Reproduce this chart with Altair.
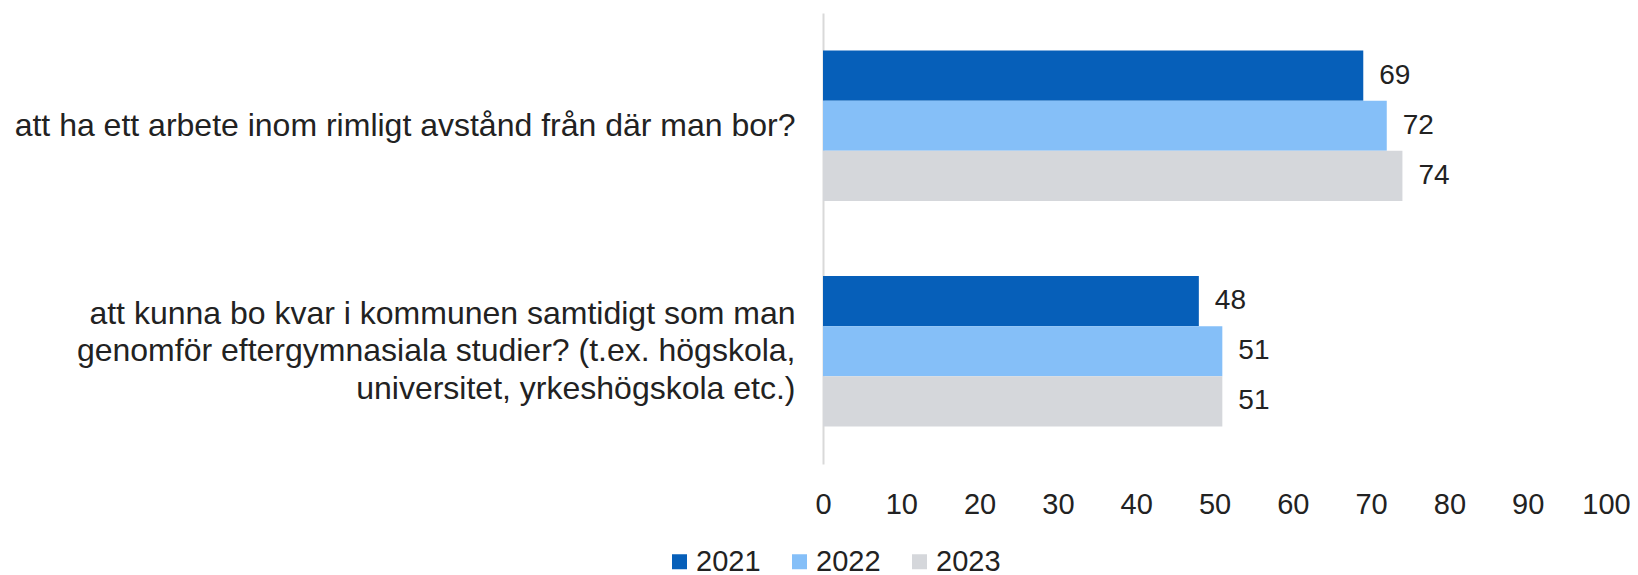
import altair as alt
import pandas as pd

questions = [
    "att ha ett arbete inom rimligt avstånd från där man bor?",
    "att kunna bo kvar i kommunen samtidigt som man|genomför eftergymnasiala studier? (t.ex. högskola,|universitet, yrkeshögskola etc.)",
]
years = ["2021", "2022", "2023"]
values_q1 = [69, 72, 74]
values_q2 = [48, 51, 51]
colors = ["#065FB9", "#85BFF8", "#D5D7DB"]
x_ticks = [0, 10, 20, 30, 40, 50, 60, 70, 80, 90, 100]

rows = []
for q, vals in zip(questions, [values_q1, values_q2]):
    for y, v in zip(years, vals):
        rows.append({"question": q, "year": y, "value": v})
df = pd.DataFrame(rows)

FONT = "Liberation Sans"
TXT = "#222222"

y_enc = alt.Y(
    "question:N",
    sort=questions,
    scale=alt.Scale(paddingInner=1 / 3, paddingOuter=1 / 6),
    axis=alt.Axis(
        title=None,
        labelExpr="split(datum.label, '|')",
        labelFont=FONT,
        labelFontSize=32,
        labelColor=TXT,
        labelLimit=900,
        labelPadding=28,
        labelLineHeight=37.5,
        labelBaseline="middle",
        labelOffset={
            "condition": {"test": "indexof(datum.value, '|') >= 0", "value": -37.5},
            "value": 0,
        },
        ticks=False,
        domain=True,
        domainColor="#D9D9D9",
        domainWidth=2,
        grid=False,
    ),
)
x_enc = alt.X(
    "value:Q",
    scale=alt.Scale(domain=[0, 100], nice=False),
    axis=alt.Axis(
        title=None,
        values=x_ticks,
        labelFont=FONT,
        labelFontSize=29,
        labelColor=TXT,
        labelPadding=26,
        ticks=False,
        domain=False,
        grid=False,
        labelFlush=False,
    ),
)

base = alt.Chart(df).encode(
    y=y_enc,
    yOffset=alt.YOffset("year:N", sort=years),
)

bars = base.mark_bar().encode(
    x=x_enc,
    color=alt.Color(
        "year:N",
        scale=alt.Scale(domain=years, range=colors),
        legend=alt.Legend(
            title=None,
            orient="none",
            direction="horizontal",
            legendX=-158,
            legendY=534,
            padding=0,
            symbolType="square",
            symbolSize=225,
            symbolStrokeWidth=0,
            labelFont=FONT,
            labelFontSize=29,
            labelColor=TXT,
            labelOffset=2,
            columnPadding=24,
        ),
    ),
)

labels = base.mark_text(
    align="left", baseline="middle", dx=16, font=FONT, fontSize=28, color=TXT
).encode(x="value:Q", text="value:Q")

chart = (
    alt.layer(bars, labels)
    .properties(
        width=783,
        height=451,
        autosize=alt.AutoSizeParams(type="none"),
        padding={"left": 815, "top": 5, "right": 24, "bottom": 109},
        background="white",
    )
    .configure_view(strokeWidth=0, stroke="transparent")
)

chart.save("out.html", embed_options={"renderer": "svg", "actions": False})
